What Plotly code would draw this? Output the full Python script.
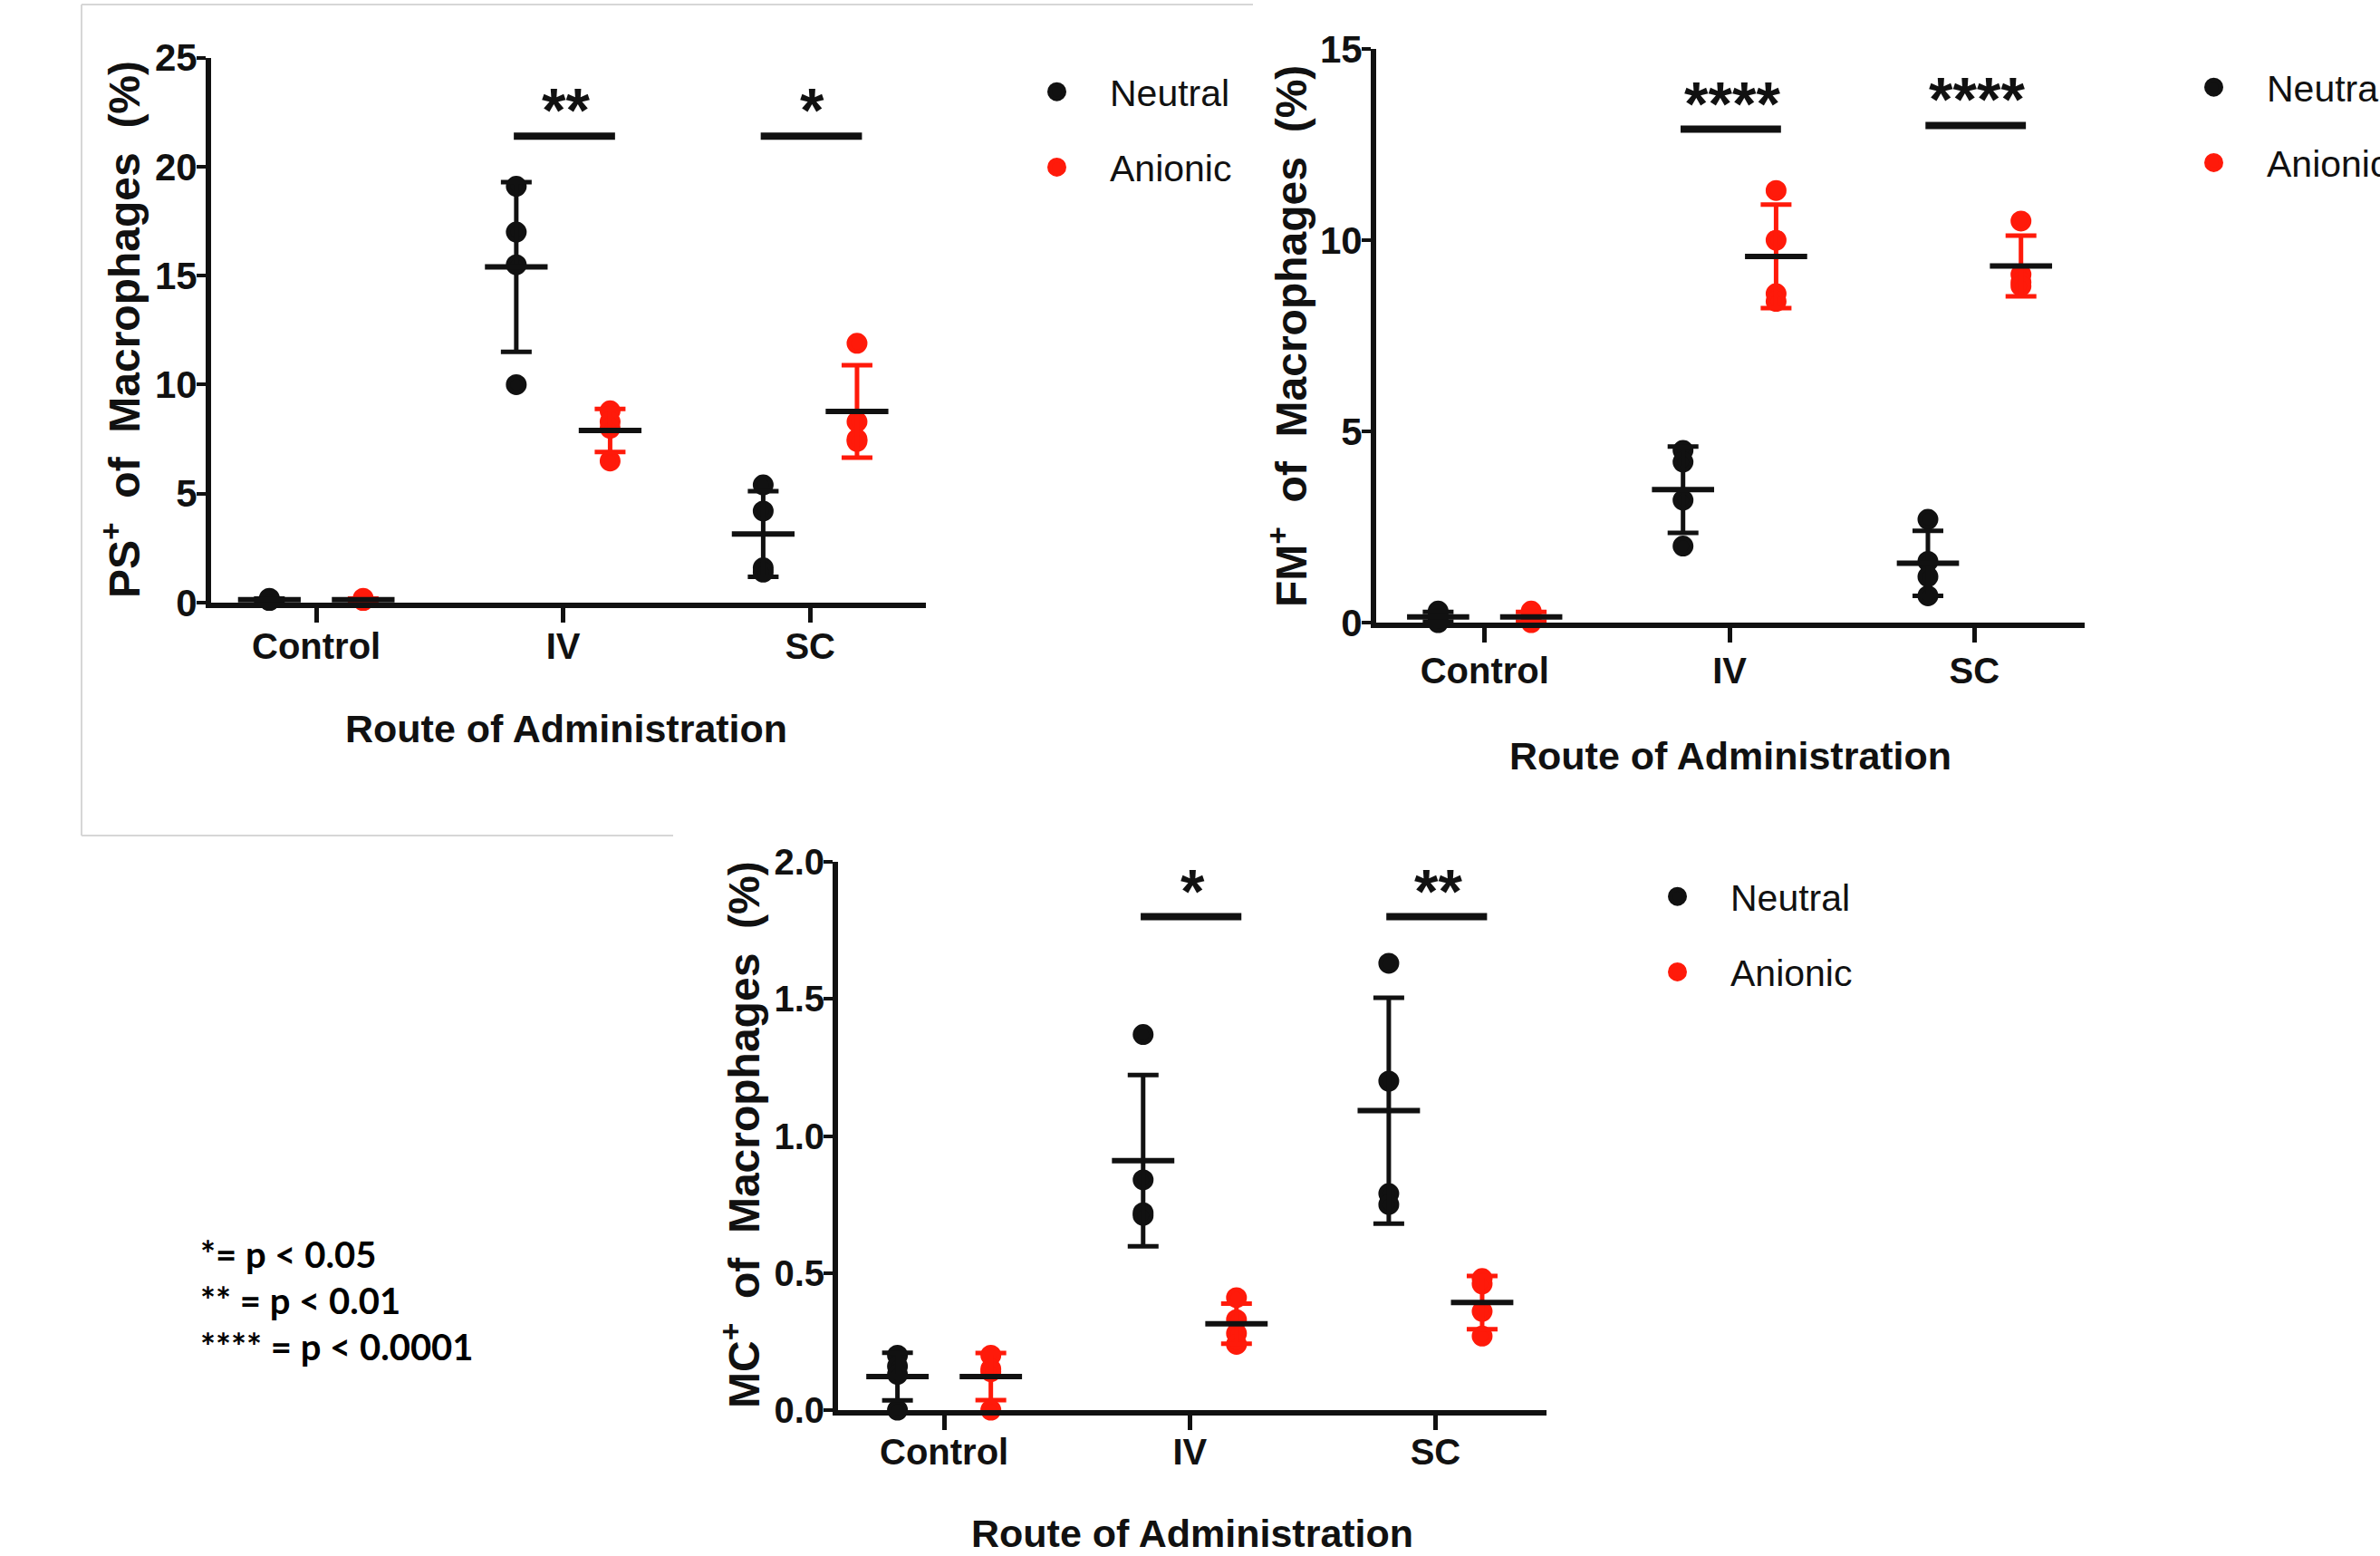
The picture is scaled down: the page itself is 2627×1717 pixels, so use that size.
import numpy as np
import plotly.graph_objects as go

# ---------------- data ----------------
categories = ["Control", "IV", "SC"]
series_names = ["Neutral", "Anionic"]

# PS+ of macrophages (%) -- four replicates per route
ps_neutral = [[0.10, 0.15, 0.20, 0.10], [19.1, 17.0, 15.5, 10.0], [5.4, 4.2, 1.6, 1.4]]
ps_anionic = [[0.10, 0.15, 0.10, 0.20], [8.8, 8.3, 8.0, 6.5], [11.9, 8.3, 7.5, 7.4]]

# FM+ of macrophages (%)
fm_neutral = [[0.30, 0.20, 0.10, 0.00], [4.5, 4.2, 3.2, 2.0], [2.7, 1.6, 1.2, 0.7]]
fm_anionic = [[0.30, 0.20, 0.10, 0.00], [11.3, 10.0, 8.6, 8.4], [10.5, 9.1, 8.9, 8.8]]

# MC+ of macrophages (%)
mc_neutral = [[0.20, 0.16, 0.13, 0.00], [1.37, 0.84, 0.72, 0.71], [1.63, 1.20, 0.79, 0.75]]
mc_anionic = [[0.20, 0.15, 0.14, 0.00], [0.41, 0.33, 0.28, 0.24], [0.48, 0.46, 0.36, 0.27]]

# significance brackets (IV and SC comparisons)
sig_categories = ["IV", "SC"]
ps_sig_level = [21.4, 21.4]
ps_sig_labels = ["**", "*"]
fm_sig_level = [12.9, 13.0]
fm_sig_labels = ["****", "****"]
mc_sig_level = [1.80, 1.80]
mc_sig_labels = ["*", "**"]

ps_yticks = [0, 5, 10, 15, 20, 25]
fm_yticks = [0, 5, 10, 15]
mc_yticks = [0.0, 0.5, 1.0, 1.5, 2.0]

ps_title = "PS<sup>+</sup>  of  Macrophages  (%)"
fm_title = "FM<sup>+</sup>  of  Macrophages  (%)"
mc_title = "MC<sup>+</sup>  of  Macrophages  (%)"
x_title = "Route of Administration"
note_lines = ["*= p < 0.05", "** = p < 0.01", "**** = p < 0.0001"]

# ---------------- layout / style ----------------
W, H = 2627, 1717
FONT = "Liberation Sans, Arial, sans-serif"
NOTE_FONT = "Lato, Open Sans, sans-serif"
colors = {"Neutral": "#111111", "Anionic": "#ff1a0a"}
err_colors = {"Neutral": "#111111", "Anionic": "#ff1a0a"}
group_offset = {"Neutral": -0.19, "Anionic": 0.19}
mean_half = 0.127
sig_left, sig_right = -0.20, 0.21


def px(xp):
    return xp / W


def py(yp):
    return 1 - yp / H


panels = [
    dict(neutral=ps_neutral, anionic=ps_anionic, sig_level=ps_sig_level, sig_labels=ps_sig_labels,
         yticks=ps_yticks, tickfmt="{:.0f}", ytitle=ps_title, ytick_size=42,
         xdom=(233, 1022), ydom=(665, 63.7), xrange=(-0.426, 2.469), xstand=-8,
         ytitle_pos=(134, 364), xtitle_pos=(625, 804), legend_pos=(1108, 68)),
    dict(neutral=fm_neutral, anionic=fm_anionic, sig_level=fm_sig_level, sig_labels=fm_sig_labels,
         yticks=fm_yticks, tickfmt="{:.0f}", ytitle=fm_title, ytick_size=42,
         xdom=(1519, 2301), ydom=(687, 54), xrange=(-0.443, 2.45), xstand=-3,
         ytitle_pos=(1422, 371), xtitle_pos=(1910, 834), legend_pos=(2385, 63)),
    dict(neutral=mc_neutral, anionic=mc_anionic, sig_level=mc_sig_level, sig_labels=mc_sig_labels,
         yticks=mc_yticks, tickfmt="{:.1f}", ytitle=mc_title, ytick_size=40,
         xdom=(925, 1707), ydom=(1556, 951), xrange=(-0.432, 2.452), xstand=-10,
         ytitle_pos=(818, 1252), xtitle_pos=(1316, 1692), legend_pos=(1793, 956)),
]

fig = go.Figure()
annotations = []
layout_axes = {}
legend_defs = {}

cat_idx = np.arange(len(categories), dtype=float)

for i, p in enumerate(panels):
    n = i + 1
    xa = "x" if n == 1 else f"x{n}"
    ya = "y" if n == 1 else f"y{n}"
    leg = "legend" if n == 1 else f"legend{n}"
    groups = {"Neutral": p["neutral"], "Anionic": p["anionic"]}

    # individual points
    for name in series_names:
        vals = groups[name]
        xs, ys = [], []
        for ci, reps in enumerate(vals):
            for v in reps:
                xs.append(cat_idx[ci] + group_offset[name])
                ys.append(v)
        fig.add_trace(go.Scatter(
            x=xs, y=ys, mode="markers", name=name, xaxis=xa, yaxis=ya,
            legend=leg, legendgroup=f"{n}{name}",
            marker=dict(size=18, color=colors[name], line=dict(width=5, color=colors[name])),
            cliponaxis=False, hoverinfo="skip"))

    # mean +/- SD
    for name in series_names:
        vals = groups[name]
        means = np.array([np.mean(r) for r in vals])
        sds = np.array([np.std(r, ddof=1) for r in vals])
        xc = cat_idx + group_offset[name]
        fig.add_trace(go.Scatter(
            x=xc, y=means, mode="markers", xaxis=xa, yaxis=ya, showlegend=False,
            marker=dict(size=1, color="rgba(0,0,0,0)"),
            error_y=dict(type="data", array=sds, color=err_colors[name], thickness=5, width=17),
            cliponaxis=False, hoverinfo="skip"))
        lx, ly = [], []
        for xv, mv in zip(xc, means):
            lx += [xv - mean_half, xv + mean_half, None]
            ly += [mv, mv, None]
        fig.add_trace(go.Scatter(
            x=lx, y=ly, mode="lines", xaxis=xa, yaxis=ya, showlegend=False,
            line=dict(color="#111111", width=6), cliponaxis=False, hoverinfo="skip"))

    # significance bars
    sx, sy = [], []
    for cat, lvl, lab in zip(sig_categories, p["sig_level"], p["sig_labels"]):
        c = categories.index(cat)
        sx += [c + sig_left, c + sig_right, None]
        sy += [lvl, lvl, None]
        annotations.append(dict(
            x=c + 0.01, y=lvl, xref=xa, yref=ya, text=lab, showarrow=False,
            yanchor="middle", yshift=29,
            font=dict(family=FONT, size=68, color="#111111", weight="bold")))
    fig.add_trace(go.Scatter(
        x=sx, y=sy, mode="lines", xaxis=xa, yaxis=ya, showlegend=False,
        line=dict(color="#111111", width=8), cliponaxis=False, hoverinfo="skip"))

    # axes
    x0, x1 = p["xdom"]
    yb, yt = p["ydom"]
    xkey = "xaxis" if n == 1 else f"xaxis{n}"
    ykey = "yaxis" if n == 1 else f"yaxis{n}"
    layout_axes[xkey] = dict(
        domain=[px(x0), px(x1)], anchor=ya, range=list(p["xrange"]),
        tickmode="array", tickvals=list(cat_idx), ticktext=categories,
        showline=True, linewidth=6, linecolor="#111111",
        ticks="outside", ticklen=16, tickwidth=5, tickcolor="#111111",
        ticklabelstandoff=p["xstand"],
        tickfont=dict(family=FONT, size=40, color="#111111", weight="bold"),
        showgrid=False, zeroline=False, fixedrange=True, automargin=False)
    layout_axes[ykey] = dict(
        domain=[py(yb), py(yt)], anchor=xa, range=[p["yticks"][0], p["yticks"][-1]],
        tickmode="array", tickvals=p["yticks"],
        ticktext=[p["tickfmt"].format(v) for v in p["yticks"]],
        showline=True, linewidth=6, linecolor="#111111",
        ticks="outside", ticklen=10, tickwidth=4, tickcolor="#111111",
        ticklabelstandoff=-9,
        tickfont=dict(family=FONT, size=p["ytick_size"], color="#111111", weight="bold"),
        showgrid=False, zeroline=False, fixedrange=True, automargin=False)

    # axis titles
    tx, ty = p["ytitle_pos"]
    annotations.append(dict(
        x=px(tx), y=py(ty), xref="paper", yref="paper", text=p["ytitle"], textangle=-90,
        showarrow=False, xanchor="center", yanchor="middle",
        font=dict(family=FONT, size=48, color="#111111", weight="bold")))
    tx, ty = p["xtitle_pos"]
    annotations.append(dict(
        x=px(tx), y=py(ty), xref="paper", yref="paper", text=x_title,
        showarrow=False, xanchor="center", yanchor="middle",
        font=dict(family=FONT, size=43, color="#111111", weight="bold")))

    lx0, ly0 = p["legend_pos"]
    legend_defs[leg] = dict(
        x=px(lx0), y=py(ly0), xanchor="left", yanchor="top",
        font=dict(family=FONT, size=41, color="#111111"),
        bgcolor="rgba(0,0,0,0)", itemwidth=107, tracegroupgap=27,
        itemclick=False, itemdoubleclick=False)

# significance key note
for k, line in enumerate(note_lines):
    annotations.append(dict(
        x=px(219), y=py(1384 + 51 * k), xref="paper", yref="paper", text=line,
        showarrow=False, xanchor="left", yanchor="middle",
        font=dict(family=NOTE_FONT, size=40, color="#000000", weight="bold")))

# faint frame around first panel (from the composite image)
frame_col = "#d6d6d6"
shapes = [
    dict(type="line", xref="paper", yref="paper", x0=px(90), x1=px(1383), y0=py(5), y1=py(5),
         line=dict(color=frame_col, width=2)),
    dict(type="line", xref="paper", yref="paper", x0=px(90), x1=px(90), y0=py(5), y1=py(922),
         line=dict(color=frame_col, width=2)),
    dict(type="line", xref="paper", yref="paper", x0=px(90), x1=px(743), y0=py(922), y1=py(922),
         line=dict(color=frame_col, width=2)),
]

fig.update_layout(
    width=W, height=H, autosize=False,
    margin=dict(l=0, r=0, t=0, b=0, autoexpand=False),
    paper_bgcolor="white", plot_bgcolor="white",
    annotations=annotations, shapes=shapes,
    showlegend=True,
    **layout_axes, **legend_defs)

fig.write_html("out.html", config={"displayModeBar": False},
               post_script="document.body.style.margin='0px';")
